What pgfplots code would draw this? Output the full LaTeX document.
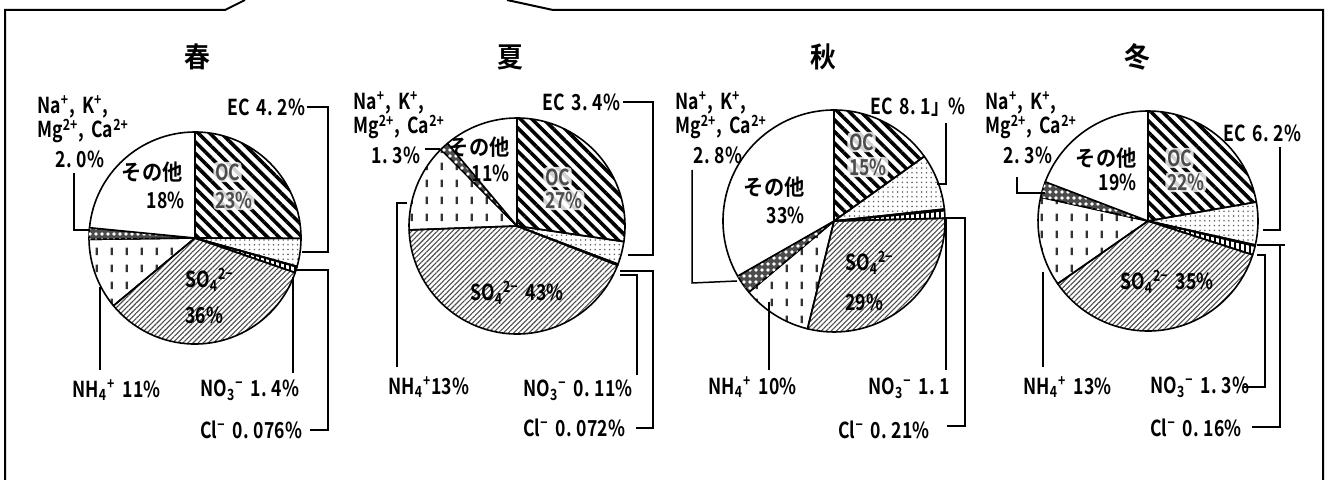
\documentclass[border=0pt]{standalone}
\usepackage{pgfplots}
\pgfplotsset{compat=1.18}
\usepackage{pgfplotstable}
\usepackage{fontspec}
\setmainfont{Noto Sans CJK JP}[BoldFont={Noto Sans CJK JP Bold}, FakeStretch=0.8, WordSpace=1.8]
\newfontfamily\jp{Noto Sans CJK JP}[BoldFont={Noto Sans CJK JP Bold}, FakeStretch=0.92]
\usetikzlibrary{patterns, patterns.meta}

\pgfdeclarepatternformonly{vdash}{\pgfqpoint{0pt}{0pt}}{\pgfqpoint{7.5pt}{8.5pt}}{\pgfqpoint{7.5pt}{8.5pt}}{%
  \pgfpathrectangle{\pgfqpoint{3pt}{2pt}}{\pgfqpoint{1.2pt}{4pt}}\pgfusepath{fill}}

% slices, clockwise from 12 o'clock (percent)
\pgfplotstableread{
part val
OC 25
EC 4.25
Cl 0.08
NO3 0.9
SO4 33.6
NH4 10.8
Na 1.75
other 23.4
}\spring
\pgfplotstableread{
part val
OC 27
EC 3.4
Cl 0.072
NO3 0.11
SO4 43
NH4 13
Na 1.3
other 11
}\summer
\pgfplotstableread{
part val
OC 15
EC 8.1
Cl 0.21
NO3 1.1
SO4 29
NH4 10
Na 2.8
other 33
}\autumn
\pgfplotstableread{
part val
OC 22
EC 6.2
Cl 0.16
NO3 1.3
SO4 35
NH4 13
Na 2.3
other 19
}\winter

\tikzset{
  wedge/.style={draw=black, line width=0.8pt, line join=round},
  sl0/.style={pattern={Lines[angle=-45,distance=4.1pt,line width=1.8pt]}, pattern color=black},
  sl1/.style={pattern={Dots[distance=2.4pt,radius=0.45pt]}, pattern color=black!60},
  sl2/.style={fill=black},
  sl3/.style={pattern={Lines[angle=90,distance=2.5pt,line width=1pt]}, pattern color=black},
  sl4/.style={pattern={Lines[angle=45,distance=1.8pt,line width=0.55pt]}, pattern color=black!70},
  sl5/.style={pattern=vdash, pattern color=black!80},
  sl6/.style={fill=black!70, postaction={pattern={Dots[distance=3pt,radius=0.9pt]}, pattern color=white}},
  sl7/.style={fill=white},
  lab/.style={font=\bfseries\fontsize{11}{11}\selectfont, inner sep=0pt, anchor=west},
  jlab/.style={lab, font=\jp\bfseries\fontsize{11}{11}\selectfont},
  gl/.style={lab, text=black!70, fill=white, fill opacity=0.82, text opacity=1,
    inner sep=0.8pt, rounded corners=2pt},
  ttl/.style={font=\jp\bfseries\fontsize{14}{14}\selectfont, inner sep=0pt},
  lead/.style={line width=0.75pt},
}
\newcommand\sub[1]{\textsubscript{#1}}
\newcommand\sups[1]{\textsuperscript{#1}}
\newcommand\dt{.\hspace{0.22em}}

% #1 table, #2 #3 centre, #4 radius (axis units)
\newcommand\pie[4]{%
  \def\tot{0}%
  \pgfplotsforeachungrouped \i in {0,1,2,3,4,5,6,7}{%
    \pgfplotstablegetelem{\i}{val}\of{#1}%
    \pgfmathsetmacro\tot{\tot+\pgfplotsretval}%
  }%
  \def\acc{0}%
  \pgfplotsforeachungrouped \i in {0,1,2,3,4,5,6,7}{%
    \pgfplotstablegetelem{\i}{val}\of{#1}%
    \pgfmathsetmacro\angA{90-360*(\acc/\tot)}%
    \pgfmathsetmacro\acc{\acc+\pgfplotsretval}%
    \pgfmathsetmacro\angB{90-360*(\acc/\tot)}%
    \pgfmathsetmacro\ptx{#2+#4*cos(\angA)}%
    \pgfmathsetmacro\pty{#3-#4*sin(\angA)}%
    \edef\temp{\noexpand\draw[wedge,sl\i] (axis cs:#2,#3) -- (axis cs:\ptx,\pty)
      arc[start angle=\angA, end angle=\angB, radius=#4*0.5pt] -- cycle;}%
    \temp
  }%
}

\newcommand\nalab[3]{% x, y, value
  \node[lab] at (#1,#2) {Na\sups{+}, K\sups{+},};
  \node[lab] at (#1,#2+24) {Mg\sups{2+}, Ca\sups{2+}};
  \node[lab, anchor=center] at (#1+43,#2+52) {#3};
}

\begin{document}
\begin{tikzpicture}
\begin{axis}[
    x=0.5pt, y=0.5pt, y dir=reverse,
    xmin=0, xmax=1332, ymin=0, ymax=480,
    hide axis, clip=false,
  ]
  % frame
  \draw[line width=1pt] (5,480) -- (5,10) -- (225,10) -- (245,0);
  \draw[line width=1pt] (507,0) -- (553,10) -- (1323,10) -- (1323,480);

  \pie{\spring}{195}{238}{106}
  \pie{\summer}{517}{226}{108}
  \pie{\autumn}{834}{221}{111}
  \pie{\winter}{1148}{221}{110}

  % spring
  \node[ttl] at (197,57) {春};
  \nalab{37}{107}{2\dt0\%}
  \node[jlab, anchor=east] at (183,172) {その他};
  \node[lab, anchor=east] at (185,200) {18\%};
  \node[gl] at (213,172) {OC};
  \node[gl] at (213,200) {23\%};
  \node[lab] at (227,107) {EC 4\dt2\%};
  \node[lab] at (185,280) {SO\sub{4}\sups{2−}};
  \node[lab] at (185,315) {36\%};
  \node[lab] at (72,390) {NH\sub{4}\sups{+} 11\%};
  \node[lab] at (200,390) {NO\sub{3}\sups{−} 1\dt4\%};
  \node[lab] at (200,430) {Cl\sups{−} 0\dt076\%};
  \draw[lead] (74,173) -- (74,230) -- (90,230);
  \draw[lead] (307,107) -- (328,107) -- (328,252) -- (302,252);
  \draw[lead] (100,287) -- (100,370);
  \draw[lead] (293,277) -- (293,373);
  \draw[lead] (310,430) -- (328,430) -- (328,270) -- (295,270);

  % summer
  \node[ttl] at (510,57) {夏};
  \nalab{353}{103}{1\dt3\%}
  \node[jlab, anchor=east] at (510,147) {その他};
  \node[lab, anchor=east] at (510,173) {11\%};
  \node[gl] at (543,177) {OC};
  \node[gl] at (543,200) {27\%};
  \node[lab] at (542,102) {EC 3\dt4\%};
  \node[lab] at (470,293) {SO\sub{4}\sups{2−} 43\%};
  \node[lab] at (388,387) {NH\sub{4}\sups{+}13\%};
  \node[lab] at (523,390) {NO\sub{3}\sups{−} 0\dt11\%};
  \node[lab] at (523,428) {Cl\sups{−} 0\dt072\%};
  \draw[lead] (425,149) -- (440,149);
  \draw[lead] (623,102) -- (653,102) -- (653,255) -- (628,255);
  \draw[lead] (407,203) -- (397,203) -- (397,367);
  \draw[lead] (620,275) -- (637,275) -- (637,375);
  \draw[lead] (620,271) -- (653,271) -- (653,428) -- (636,428);

  % autumn
  \node[ttl] at (823,57) {秋};
  \nalab{675}{103}{2\dt8\%}
  \node[jlab, anchor=east] at (805,187) {その他};
  \node[lab, anchor=east] at (805,215) {33\%};
  \node[gl] at (847,142) {OC};
  \node[gl] at (847,167) {15\%};
  \node[lab] at (870,107) {EC 8\dt1」\%};
  \node[lab] at (845,263) {SO\sub{4}\sups{2−}};
  \node[lab] at (845,302) {29\%};
  \node[lab] at (708,387) {NH\sub{4}\sups{+} 10\%};
  \node[lab] at (868,388) {NO\sub{3}\sups{−} 1\dt1};
  \node[lab] at (838,430) {Cl\sups{−} 0\dt21\%};
  \draw[lead] (692,170) -- (692,283) -- (737,281);
  \draw[lead] (946,123) -- (946,184) -- (937,184);
  \draw[lead] (769,302) -- (769,370);
  \draw[lead] (946,219) -- (946,370);
  \draw[lead] (947,426) -- (965,426) -- (965,218) -- (945,218);

  % winter
  \node[ttl] at (1137,57) {冬};
  \nalab{985}{103}{2\dt3\%}
  \node[jlab, anchor=east] at (1137,158) {その他};
  \node[lab, anchor=east] at (1137,182) {19\%};
  \node[gl] at (1165,158) {OC};
  \node[gl] at (1165,182) {22\%};
  \node[lab] at (1223,133) {EC 6\dt2\%};
  \node[lab] at (1120,282) {SO\sub{4}\sups{2−} 35\%};
  \node[lab] at (1023,387) {NH\sub{4}\sups{+} 13\%};
  \node[lab] at (1150,387) {NO\sub{3}\sups{−} 1\dt3\%};
  \node[lab] at (1150,428) {Cl\sups{−} 0\dt16\%};
  \draw[lead] (1017,177) -- (1017,193) -- (1045,193);
  \draw[lead] (1280,147) -- (1280,230) -- (1263,230);
  \draw[lead] (1257,245) -- (1285,245);
  \draw[lead] (1280,245) -- (1280,427) -- (1252,427);
  \draw[lead] (1257,255) -- (1265,255) -- (1265,387) -- (1243,387);
  \draw[lead] (1043,272) -- (1043,367);
\end{axis}
\pgfresetboundingbox
\path (current axis.south west) rectangle (current axis.north east);
\end{tikzpicture}
\end{document}
